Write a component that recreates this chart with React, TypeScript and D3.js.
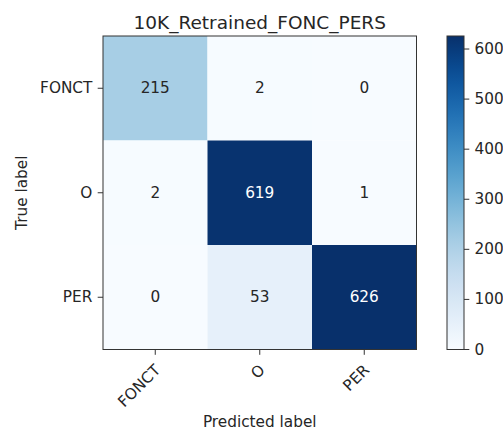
import React from "react";
import * as d3 from "d3";

const classes = ["FONCT", "O", "PER"];
// rows = true label, columns = predicted label
const matrix = [
  [215, 2, 0],
  [2, 619, 1],
  [0, 53, 626],
];
const colorbarTicks = [0, 100, 200, 300, 400, 500, 600];
const title = "10K_Retrained_FONC_PERS";

const W = 503;
const H = 431;
const plot = { left: 103, right: 416.5, top: 36, bottom: 349.5 };
const cbar = { left: 447, right: 464 };
const font = "DejaVu Sans, sans-serif";
const textColor = "#262626";
const fs = 15.3;
const tickLen = 5.3;
const pad = 5.3;

export default function App() {
  const x = d3.scaleBand<string>().domain(classes).range([plot.left, plot.right]);
  const y = d3.scaleBand<string>().domain(classes).range([plot.top, plot.bottom]);
  const maxVal = d3.max(matrix.flat()) as number;
  const minVal = d3.min(matrix.flat()) as number;
  const color = d3.scaleSequential(d3.interpolateBlues).domain([minVal, maxVal]);
  const cy = d3.scaleLinear().domain([minVal, maxVal]).range([plot.bottom, plot.top]);
  const thresh = maxVal / 2;

  const cells = matrix.flatMap((row, i) =>
    row.map((v, j) => ({ t: classes[i], p: classes[j], v }))
  );
  const stops = d3.range(0, 1.0001, 0.05);

  return (
    <svg
      width={W}
      height={H}
      style={{ position: "absolute", left: 0, top: 0, background: "#fff" }}
      fontFamily={font}
    >
      <defs>
        <linearGradient id="cb" x1="0" y1="1" x2="0" y2="0">
          {stops.map((s) => (
            <stop key={s} offset={s} stopColor={d3.interpolateBlues(s)} />
          ))}
        </linearGradient>
      </defs>

      {/* heatmap cells */}
      {cells.map((c) => (
        <rect
          key={c.t + c.p}
          x={x(c.p)}
          y={y(c.t)}
          width={x.bandwidth()}
          height={y.bandwidth()}
          fill={color(c.v)}
        />
      ))}
      {cells.map((c) => (
        <text
          key={"t" + c.t + c.p}
          x={(x(c.p) as number) + x.bandwidth() / 2}
          y={(y(c.t) as number) + y.bandwidth() / 2}
          textAnchor="middle"
          dominantBaseline="central"
          fontSize={fs}
          fill={c.v > thresh ? "#fff" : textColor}
        >
          {c.v}
        </text>
      ))}
      <rect
        x={plot.left}
        y={plot.top}
        width={plot.right - plot.left}
        height={plot.bottom - plot.top}
        fill="none"
        stroke="#333"
        strokeWidth={1}
      />

      {/* x axis */}
      {classes.map((c) => {
        const cx = (x(c) as number) + x.bandwidth() / 2;
        return (
          <g key={"x" + c}>
            <line x1={cx} x2={cx} y1={plot.bottom} y2={plot.bottom + tickLen} stroke="#333" />
            <text
              transform={`translate(${cx + 6},${plot.bottom + 21.5}) rotate(-45)`}
              textAnchor="end"
              fontSize={fs}
              fill={textColor}
            >
              {c}
            </text>
          </g>
        );
      })}

      {/* y axis */}
      {classes.map((c) => {
        const cyy = (y(c) as number) + y.bandwidth() / 2;
        return (
          <g key={"y" + c}>
            <line x1={plot.left - tickLen} x2={plot.left} y1={cyy} y2={cyy} stroke="#333" />
            <text
              x={plot.left - tickLen - pad}
              y={cyy}
              textAnchor="end"
              dominantBaseline="central"
              fontSize={fs}
              fill={textColor}
            >
              {c}
            </text>
          </g>
        );
      })}

      <text x={(plot.left + plot.right) / 2} y={28.5} textAnchor="middle" fontSize={18.5} fill={textColor}>
        {title}
      </text>
      <text
        x={(plot.left + plot.right) / 2}
        y={427}
        textAnchor="middle"
        fontSize={fs}
        fill={textColor}
      >
        Predicted label
      </text>
      <text
        transform={`translate(27,${(plot.top + plot.bottom) / 2}) rotate(-90)`}
        textAnchor="middle"
        fontSize={fs}
        fill={textColor}
      >
        True label
      </text>

      {/* colorbar */}
      <rect
        x={cbar.left}
        y={plot.top}
        width={cbar.right - cbar.left}
        height={plot.bottom - plot.top}
        fill="url(#cb)"
        stroke="#333"
        strokeWidth={1}
      />
      {colorbarTicks.map((t) => (
        <g key={"cb" + t}>
          <line x1={cbar.right} x2={cbar.right + tickLen} y1={cy(t)} y2={cy(t)} stroke="#333" />
          <text
            x={cbar.right + tickLen + pad}
            y={cy(t)}
            dominantBaseline="central"
            fontSize={fs}
            fill={textColor}
          >
            {t}
          </text>
        </g>
      ))}
    </svg>
  );
}
